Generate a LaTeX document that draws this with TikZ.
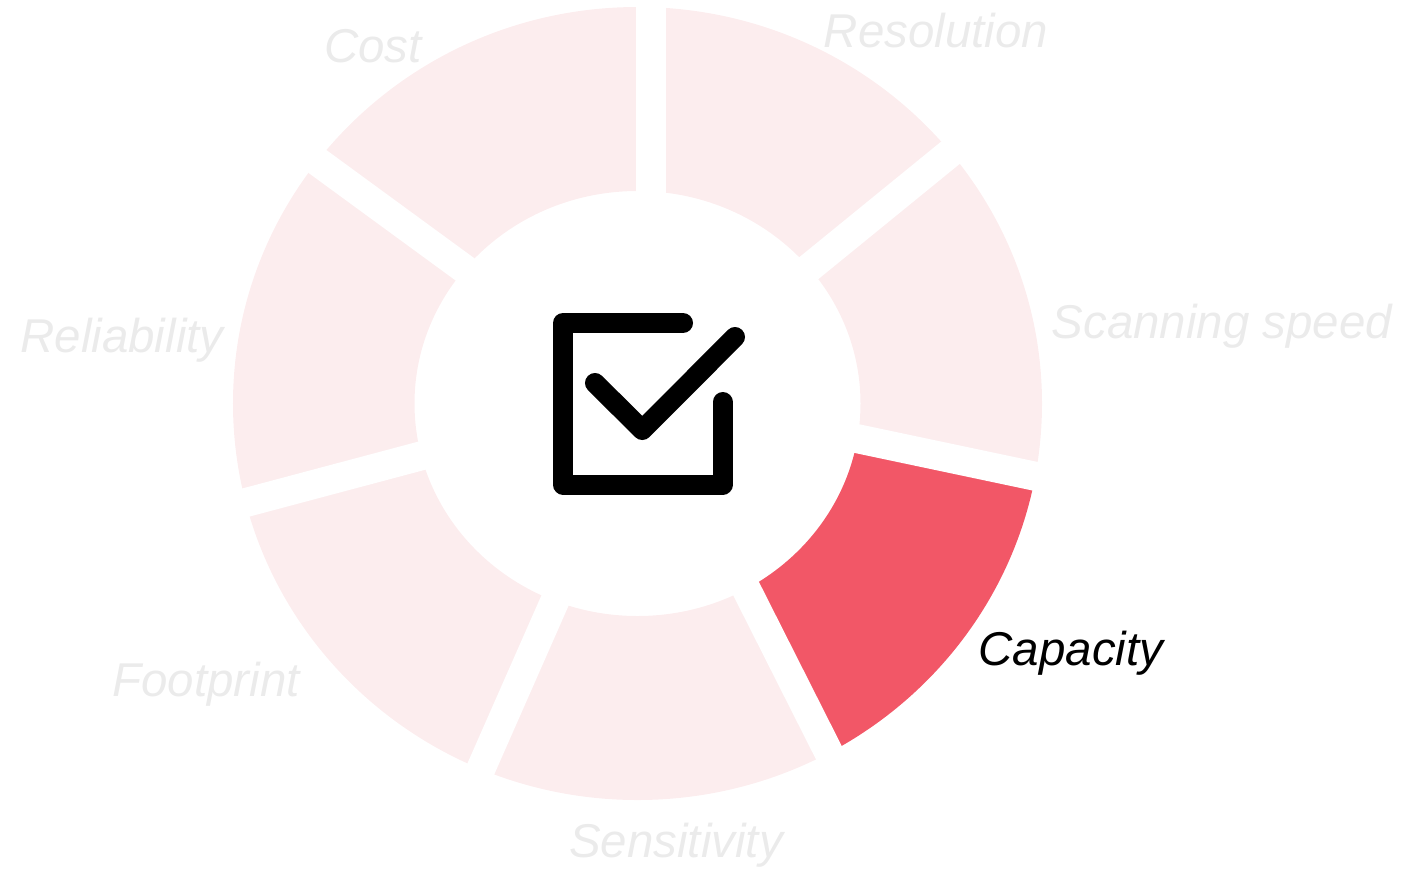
\documentclass[tikz,border=0pt]{standalone}
\usepackage{fontspec}
\setmainfont{Liberation Sans}
\usetikzlibrary{calc}
\definecolor{segpink}{HTML}{FCEDEE}
\definecolor{segred}{HTML}{F25767}
\definecolor{lblgray}{HTML}{EBEBEB}
\tikzset{
  lbl/.style={font=\fontsize{13.5}{16}\selectfont\itshape, text=lblgray, anchor=base, inner sep=0pt},
  gapband/.style={white, line width=0.29cm},
  tick/.style={black, line width=0.2cm, line cap=round, line join=round}
}

\begin{document}
\begin{tikzpicture}[x=0.01cm,y=0.01cm]
   \useasboundingbox (-637.5,-465.5) rectangle (766.5,403.5);
   % gap lines: inner and outer points
   \coordinate (g1in)  at (13.5,213.5);   \coordinate (g1out) at (13.5,396.5);
   \coordinate (g2in)  at (171.5,135.5);  \coordinate (g2out) at (312,250);
   \coordinate (g3in)  at (219,-35);      \coordinate (g3out) at (396.5,-72.5);
   \coordinate (g4in)  at (108.5,-185);   \coordinate (g4out) at (190.5,-347.5);
   \coordinate (g5in)  at (-82.5,-197);   \coordinate (g5out) at (-156.5,-365);
   \coordinate (g6in)  at (-217,-52.5);   \coordinate (g6out) at (-391.5,-99);
   \coordinate (g7in)  at (-173,134.5);   \coordinate (g7out) at (-320,242);
   % ring
   \fill[segpink,even odd rule] (0,0) ellipse[x radius=404.5,y radius=396.5]
                                (0,0) ellipse[x radius=223,y radius=212.5];
   \begin{scope}
    \clip ($(g3in)!-0.2!(g3out)$) -- ($(g3in)!1.5!(g3out)$)
       -- ($(g4in)!1.5!(g4out)$) -- ($(g4in)!-0.2!(g4out)$) -- cycle;
    \fill[segred,even odd rule] (0,0) ellipse[x radius=404.5,y radius=396.5]
                                (0,0) ellipse[x radius=223,y radius=212.5];
   \end{scope}
   \foreach \g in {1,...,7}
    \draw[gapband] ($(g\g in)!-0.2!(g\g out)$) -- ($(g\g in)!1.2!(g\g out)$);
   % check box icon
   \draw[tick] (45.5,80.5) -- (-74.5,80.5) -- (-74.5,-81) -- (85.2,-81) -- (85.2,1.5);
   \draw[tick] (-42.5,20.5) -- (4.8,-26.5) -- (97.5,66.5);
   % labels
   \node (cost)  [lbl] at (-264.5,341.5) {Cost};
   \node (resol) [lbl] at (298.5,356.5) {Resolution};
   \node (scan)  [lbl] at (584.5,65.5) {Scanning speed};
   \node (capa)  [lbl,text=black] at (433.5,-261.5) {Capacity};
   \node (sens)  [lbl] at (38.5,-453.5) {Sensitivity};
   \node (foot)  [lbl] at (-431.5,-292.5) {Footprint};
   \node (relia) [lbl] at (-515.5,51.5) {Reliability};
\end{tikzpicture}
\end{document}
